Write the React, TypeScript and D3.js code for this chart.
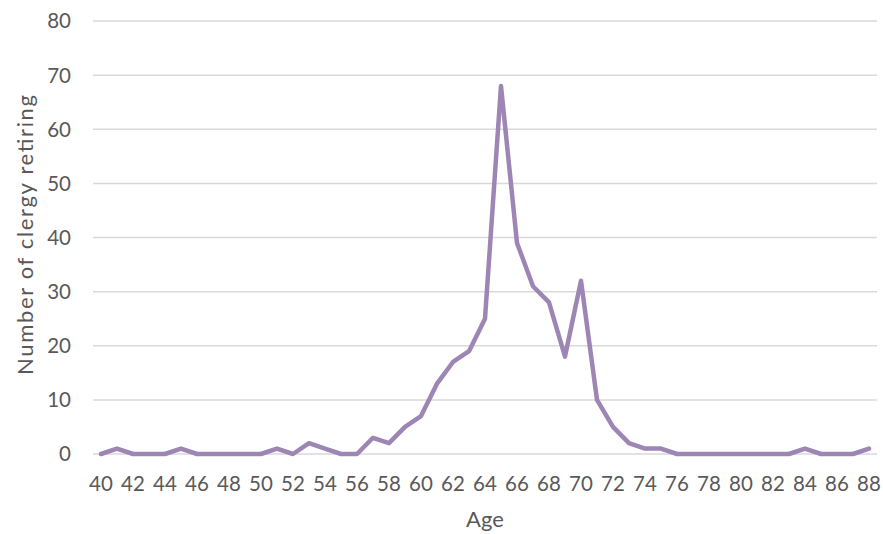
import React from "react";
import * as d3 from "d3";

const ages = d3.range(40, 89);
const counts = [0,1,0,0,0,1,0,0,0,0,0,1,0,2,1,0,0,3,2,5,7,13,17,19,25,68,39,31,28,18,32,10,5,2,1,1,0,0,0,0,0,0,0,0,1,0,0,0,1];
const yTicks = [0,10,20,30,40,50,60,70,80];
const xTickAges = ages.filter(a => a % 2 === 0);

const W = 883, H = 534;
const left = 93, right = 877, top = 21, bottom = 454;
const font = "'Lato', 'Open Sans', sans-serif";

export default function App() {
  const x = d3.scalePoint<number>().domain(ages).range([left, right]).padding(0.5);
  const y = d3.scaleLinear().domain([0, 80]).range([bottom, top]);
  const line = d3.line<number>().x((_, i) => x(ages[i])!).y(d => y(d));
  return (
    <svg width={W} height={H} style={{ position: "absolute", left: 0, top: 0 }}>
      <rect width={W} height={H} fill="#fff" />
      {yTicks.map(t => (
        <g key={t}>
          <line x1={left} x2={right} y1={y(t)} y2={y(t)} stroke="#d9d9d9" strokeWidth={1.5} />
          <text x={71} y={y(t)} dy="0.36em" textAnchor="end" fontSize={20.5} fill="#595959" fontFamily={font}>{t}</text>
        </g>
      ))}
      {xTickAges.map(a => (
        <text key={a} x={x(a)!} y={491} textAnchor="middle" fontSize={20.5} fill="#595959" fontFamily={font}>{a}</text>
      ))}
      <path d={line(counts)!} fill="none" stroke="#9e86b4" strokeWidth={4.5} strokeLinejoin="round" strokeLinecap="round" />
      <text x={485} y={527} textAnchor="middle" fontSize={22} fill="#595959" fontFamily={font}>Age</text>
      <text transform={`translate(33, 235) rotate(-90)`} textAnchor="middle" fontSize={22} textLength={280} lengthAdjust="spacing" fill="#595959" fontFamily={font}>Number of clergy retiring</text>
    </svg>
  );
}
